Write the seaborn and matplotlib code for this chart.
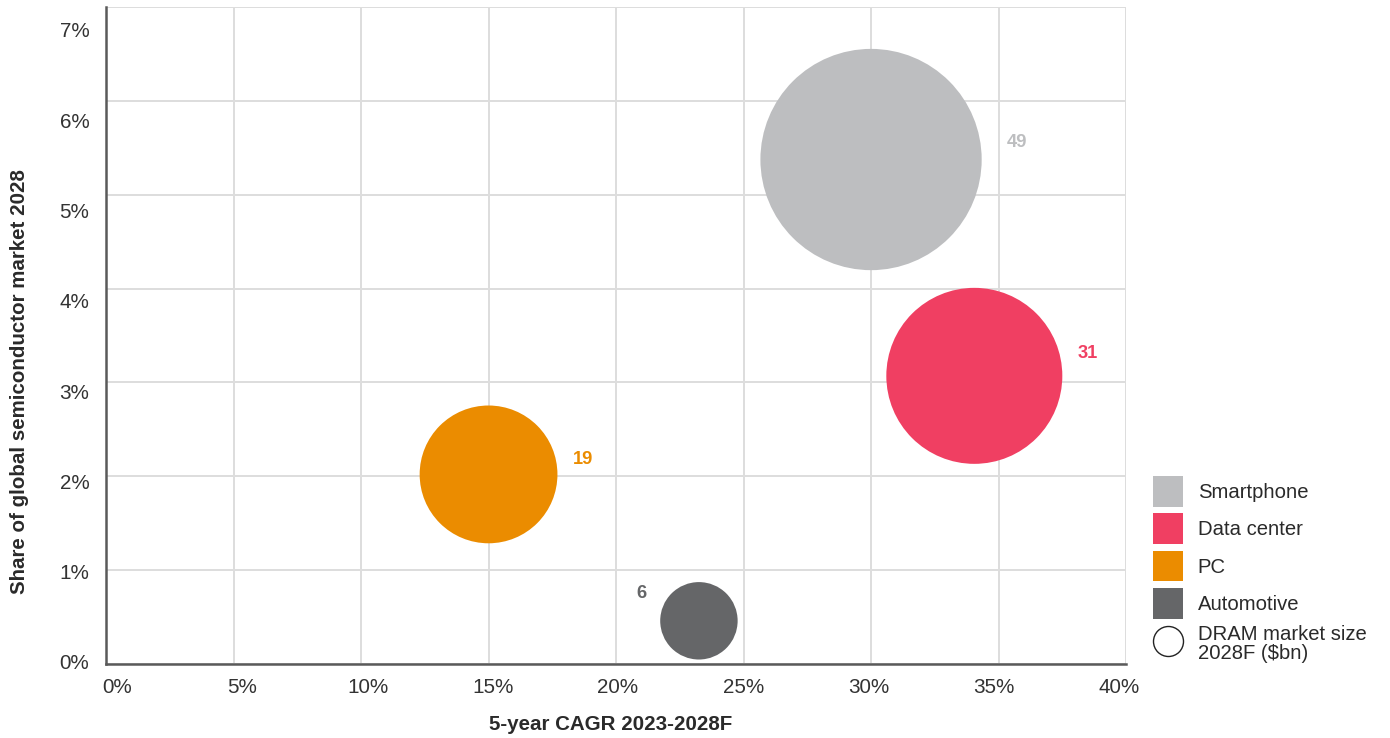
import matplotlib
matplotlib.use("Agg")
import matplotlib.pyplot as plt
from matplotlib.patches import Patch
from matplotlib.lines import Line2D
from matplotlib.ticker import FuncFormatter
from matplotlib.transforms import ScaledTranslation
import seaborn as sns
import pandas as pd

# DRAM end markets: growth vs. share of the semiconductor market, bubble = market size
segments = ["Smartphone", "Data center", "PC", "Automotive"]
cagr_pct = [30.0, 34.05, 15.0, 23.25]          # 5-year CAGR 2023-2028F (%)
share_pct = [5.375, 3.07, 2.02, 0.46]           # share of global semiconductor market 2028 (%)
market_bn = [49, 31, 19, 6]                     # DRAM market size 2028F ($bn)

colors = ["#BDBEC0", "#F03F62", "#EB8C00", "#656668"]
label_colors = ["#BDBEC0", "#F03F62", "#EB8C00", "#656668"]
# value-label offsets from bubble centres, in points
label_offsets = [(105, 12.6), (81.5, 16), (68, 11), (-41.5, 20)]

x_ticks = list(range(0, 45, 5))
y_ticks = list(range(0, 8))

df = pd.DataFrame({"segment": segments, "cagr": cagr_pct,
                   "share": share_pct, "size": market_bn})

sns.set_theme(style="white")
plt.rcParams["font.family"] = ["Liberation Sans", "DejaVu Sans"]

fig = plt.figure(figsize=(13.9, 7.38), dpi=100)
ax = fig.add_axes([0.0763, 0.1003, 0.7338, 0.8902])

# bubble area proportional to market size
sns.scatterplot(data=df, x="cagr", y="share", hue="segment", palette=colors,
                hue_order=segments, size="size", sizes=(0, 518 * 49),
                size_norm=(0, 49), linewidth=0, alpha=1, legend=False,
                ax=ax, zorder=3)

for xv, yv, val, col, off in zip(cagr_pct, share_pct, market_bn,
                                 label_colors, label_offsets):
    ax.annotate(f"{val}", xy=(xv, yv), xytext=off, textcoords="offset points",
                ha="center", va="center", fontsize=13.2, fontweight="bold",
                color=col, zorder=4)

ax.set_xlim(0, 40)
ax.set_ylim(0, 7)
ax.set_xticks(x_ticks)
ax.set_yticks(y_ticks)
ax.xaxis.set_major_formatter(FuncFormatter(lambda v, p: f"{v:.0f}%"))
ax.yaxis.set_major_formatter(FuncFormatter(lambda v, p: f"{v:.0f}%"))
ax.tick_params(axis="both", length=0, labelsize=14.9, labelcolor="#333333")
ax.tick_params(axis="x", pad=10)
ax.tick_params(axis="y", pad=12)

ax.grid(True, color="#DDDDDD", linewidth=1.4, zorder=0)
ax.set_axisbelow(True)
for side in ["top", "right"]:
    ax.spines[side].set_visible(False)
for side in ["left", "bottom"]:
    ax.spines[side].set_color("#5A5A5A")
    ax.spines[side].set_linewidth(1.8)
    ax.spines[side].set_zorder(5)

# tick labels run on a slightly tighter spacing than the grid
for i, lab in enumerate(ax.get_xticklabels()):
    dx = (11 - 2.25 * i) / 100
    lab.set_transform(lab.get_transform()
                      + ScaledTranslation(dx, 0, fig.dpi_scale_trans))
for i, lab in enumerate(ax.get_yticklabels()):
    dy = (2 - 3.56 * i) / 100
    lab.set_transform(lab.get_transform()
                      + ScaledTranslation(0, dy, fig.dpi_scale_trans))

ax.set_xlabel("5-year CAGR 2023-2028F", fontsize=14.8, fontweight="bold",
              color="#2A2A2A")
ax.set_ylabel("Share of global semiconductor market 2028", fontsize=14.8,
              fontweight="bold", color="#2A2A2A")
ax.xaxis.set_label_coords(0.495, -0.077)
ax.yaxis.set_label_coords(-0.076, 0.43)

handles = [Patch(facecolor=c, edgecolor="none", label=s)
           for c, s in zip(colors, segments)]
handles.append(Line2D([], [], linestyle="none", marker="o", markersize=21.6,
                      markerfacecolor="white", markeredgecolor="#222222",
                      markeredgewidth=1.0, label="DRAM market size\n2028F ($bn)"))
leg = fig.legend(handles=handles, loc="upper left",
                 bbox_to_anchor=(0.8295, 0.355), frameon=False,
                 fontsize=14.6, handlelength=1.5, handleheight=1.95,
                 handletextpad=0.7, labelspacing=0.33, borderpad=0,
                 borderaxespad=0)
for t in leg.get_texts():
    t.set_color("#2A2A2A")
    t.set_linespacing(0.95)

fig.savefig("out.png", dpi=100)
